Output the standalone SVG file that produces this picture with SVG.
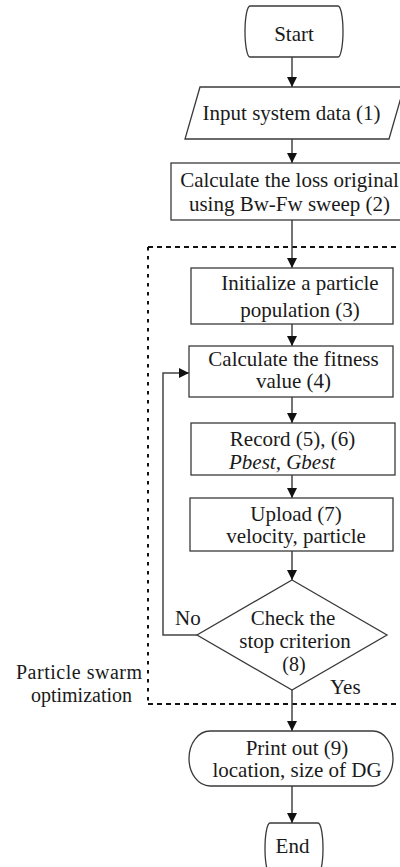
<svg xmlns="http://www.w3.org/2000/svg" width="400" height="867" viewBox="0 0 400 867">
<defs>
<marker id="ah" markerWidth="10" markerHeight="10" refX="10" refY="5" orient="auto" markerUnits="userSpaceOnUse">
<path d="M0,0 L10,5 L0,10 Z" fill="#111"/>
</marker>
</defs>
<style>
.shape{fill:#fff;stroke:#3a3a3a;stroke-width:1.3}
.conn{fill:none;stroke:#444;stroke-width:1.5}
.dash{fill:none;stroke:#111;stroke-width:2}
text{font-family:"Liberation Serif","Times New Roman",serif;font-size:21px;fill:#1a1a1a}
.c{text-anchor:middle}
.s{font-size:20px}
</style>
<rect width="400" height="867" fill="#fff"/>
<g id="pso-region">
<path class="dash" d="M148,247 H400" stroke-dasharray="5 4"/>
<path class="dash" d="M148,704 H400" stroke-dasharray="5 4"/>
<path class="dash" d="M148,247 V704" stroke-dasharray="3.5 5.5"/>
<text class="s" x="142" y="679" text-anchor="end" textLength="126">Particle swarm</text>
<text class="s" x="132" y="702" text-anchor="end">optimization</text>
</g>
<g id="connectors">
<path class="conn" d="M292,57 V87" marker-end="url(#ah)"/>
<path class="conn" d="M292,139 V163" marker-end="url(#ah)"/>
<path class="conn" d="M292,220 V268" marker-end="url(#ah)"/>
<path class="conn" d="M292,324 V346" marker-end="url(#ah)"/>
<path class="conn" d="M292,397 V423" marker-end="url(#ah)"/>
<path class="conn" d="M292,475 V498" marker-end="url(#ah)"/>
<path class="conn" d="M292,551 V580" marker-end="url(#ah)"/>
<path class="conn" d="M292,690 V731" marker-end="url(#ah)"/>
<path class="conn" d="M292,786 V823" marker-end="url(#ah)"/>
<path class="conn" d="M197,635 H163 V373 H189" marker-end="url(#ah)"/>
<text x="175" y="625">No</text>
<text x="330" y="694">Yes</text>
</g>
<g id="start">
<path class="shape" d="M250,6 H338 A5,25.5 0 0 1 338,57 H250 A5,25.5 0 0 1 250,6 Z"/>
<text class="c" x="294" y="41">Start</text>
</g>
<g id="input">
<polygon class="shape" points="200,87 404,87 389,139 185,139"/>
<text class="c" x="291.5" y="120">Input system data (1)</text>
</g>
<g id="loss">
<rect class="shape" x="171" y="163" width="240" height="57"/>
<text class="c" x="289.5" y="187">Calculate the loss original</text>
<text class="c" x="289.5" y="211">using Bw-Fw sweep (2)</text>
</g>
<g id="init">
<rect class="shape" x="191" y="268" width="202" height="56"/>
<text class="c" x="300" y="290">Initialize a particle</text>
<text class="c" x="300" y="317">population (3)</text>
</g>
<g id="fitness">
<rect class="shape" x="189" y="346" width="204" height="51"/>
<text class="c" x="293.5" y="366">Calculate the fitness</text>
<text class="c" x="293.5" y="388">value (4)</text>
</g>
<g id="record">
<rect class="shape" x="191" y="423" width="204" height="52"/>
<text class="c" x="292.5" y="446">Record (5), (6)</text>
<text x="229" y="469" font-style="italic">Pbest, Gbest</text>
</g>
<g id="upload">
<rect class="shape" x="190" y="498" width="203" height="53"/>
<text class="c" x="296" y="521">Upload (7)</text>
<text class="c" x="296" y="543">velocity, particle</text>
</g>
<g id="check">
<polygon class="shape" points="292,580 387,635 292,690 197,635"/>
<text class="c" x="293" y="625">Check the</text>
<text class="c" x="295" y="648">stop criterion</text>
<text class="c s" x="294" y="671">(8)</text>
</g>
<g id="print">
<path class="shape" d="M210,731 H373 A20,27.5 0 0 1 373,786 H210 A21,27.5 0 0 1 210,731 Z"/>
<text class="c" x="297" y="755">Print out (9)</text>
<text class="c" x="297" y="777">location, size of DG</text>
</g>
<g id="end">
<path class="shape" d="M270,823 H318 A5,25.5 0 0 1 318,874 H270 A5,25.5 0 0 1 270,823 Z"/>
<text class="c" x="292.5" y="853">End</text>
</g>
</svg>
